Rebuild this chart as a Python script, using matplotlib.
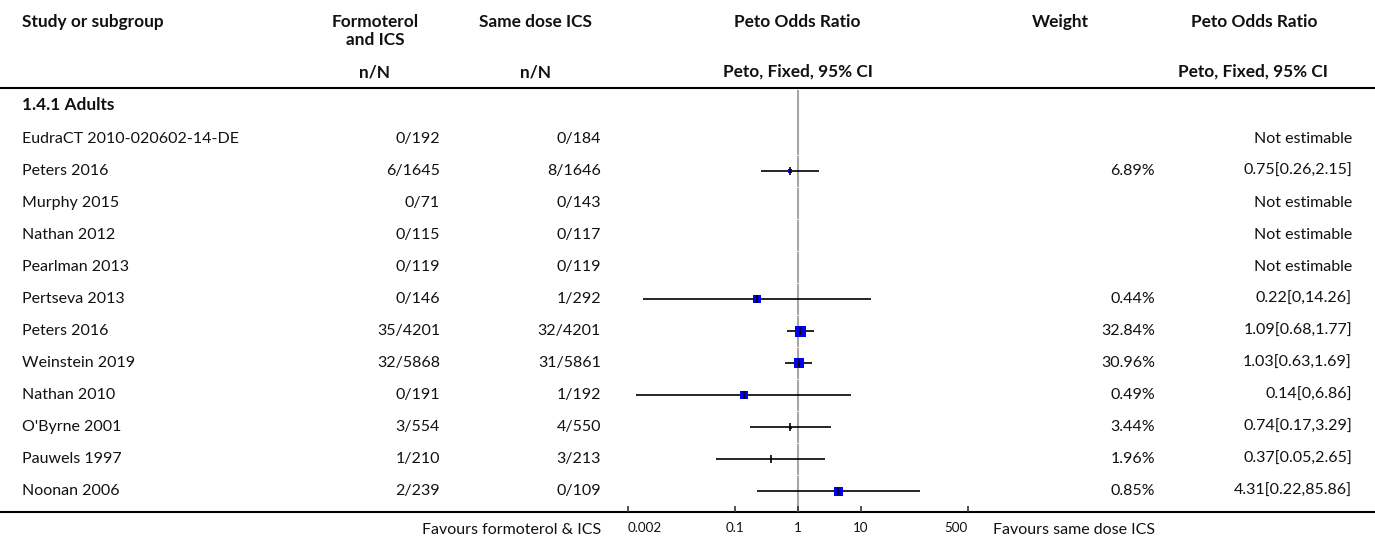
import matplotlib
matplotlib.use("Agg")
import matplotlib.pyplot as plt
from matplotlib.ticker import FixedLocator, NullLocator

# ---- data -------------------------------------------------------------
subgroup = "1.4.1 Adults"
studies = [
    "EudraCT 2010-020602-14-DE", "Peters 2016", "Murphy 2015", "Nathan 2012",
    "Pearlman 2013", "Pertseva 2013", "Peters 2016", "Weinstein 2019",
    "Nathan 2010", "O'Byrne 2001", "Pauwels 1997", "Noonan 2006",
]
form_events = [0, 6, 0, 0, 0, 0, 35, 32, 0, 3, 1, 2]
form_total = [192, 1645, 71, 115, 119, 146, 4201, 5868, 191, 554, 210, 239]
ics_events = [0, 8, 0, 0, 0, 1, 32, 31, 1, 4, 3, 0]
ics_total = [184, 1646, 143, 117, 119, 292, 4201, 5861, 192, 550, 213, 109]
weight_pct = [None, 6.89, None, None, None, 0.44, 32.84, 30.96, 0.49, 3.44, 1.96, 0.85]
peto_or = [None, 0.75, None, None, None, 0.22, 1.09, 1.03, 0.14, 0.74, 0.37, 4.31]
ci_low = [None, 0.26, None, None, None, 0.0035, 0.68, 0.63, 0.0027, 0.17, 0.05, 0.22]
ci_high = [None, 2.15, None, None, None, 14.26, 1.77, 1.69, 6.86, 3.29, 2.65, 85.86]
axis_ticks = [0.002, 0.1, 1, 10, 500]
axis_tick_labels = ["0.002", "0.1", "1", "10", "500"]
favours_left = "Favours formoterol & ICS"
favours_right = "Favours same dose ICS"

# ---- styling ----------------------------------------------------------
box_side_px = [0, 5, 0, 0, 0, 8, 11, 10, 8, 3, 0, 9]
W, H = 1375, 539
FONT = ["Lato", "DejaVu Sans"]
FS = 11.5
FS_HDR = 12.4
BOX_COLOR = "#0000ee"
TEXT = "#111111"

plt.rcParams["font.family"] = FONT


def fmt(v):
    s = f"{v:.2f}"
    if "." in s:
        s = s.rstrip("0").rstrip(".")
    return s


fig = plt.figure(figsize=(W / 100, H / 100), dpi=100)
fig.patch.set_facecolor("white")

# text layer in pixel coordinates
tx = fig.add_axes([0, 0, 1, 1])
tx.set_xlim(0, W)
tx.set_ylim(H, 0)
tx.axis("off")

# forest plot layer with a logarithmic odds-ratio axis
FX0, FX1, FY0, FY1 = 622, 975, 88, 512
px_per_decade = 63.0
x_at_one = 798.0
fx = fig.add_axes([FX0 / W, (H - FY1) / H, (FX1 - FX0) / W, (FY1 - FY0) / H])
fx.set_xscale("log")
fx.set_xlim(10 ** ((FX0 - x_at_one) / px_per_decade), 10 ** ((FX1 - x_at_one) / px_per_decade))
fx.set_ylim(FY1, FY0)
fx.patch.set_alpha(0)
for side in ("left", "right", "top", "bottom"):
    fx.spines[side].set_visible(False)
fx.yaxis.set_major_locator(NullLocator())
fx.xaxis.set_major_locator(FixedLocator(axis_ticks))
fx.xaxis.set_minor_locator(NullLocator())
fx.set_xticklabels(axis_tick_labels)
fx.tick_params(axis="x", direction="in", length=4, width=1.2, color="#333333",
               labelsize=9.6, pad=7, labelcolor=TEXT)
tick_labels = fx.get_xticklabels()
tick_labels[0].set_horizontalalignment("left")
tick_labels[-1].set_horizontalalignment("right")

# header
hdr = dict(fontsize=FS_HDR, fontweight="bold", color=TEXT, va="center")
tx.text(22, 22, "Study or subgroup", ha="left", **hdr)
tx.text(375, 22, "Formoterol", ha="center", **hdr)
tx.text(375, 40, "and ICS", ha="center", **hdr)
tx.text(536, 22, "Same dose ICS", ha="center", **hdr)
tx.text(797, 22, "Peto Odds Ratio", ha="center", **hdr)
tx.text(1060, 22, "Weight", ha="center", **hdr)
tx.text(1254, 22, "Peto Odds Ratio", ha="center", **hdr)
tx.text(375, 72, "n/N", ha="center", **hdr)
tx.text(536, 72, "n/N", ha="center", **hdr)
tx.text(798, 72, "Peto, Fixed, 95% CI", ha="center", **hdr)
tx.text(1253, 72, "Peto, Fixed, 95% CI", ha="center", **hdr)
tx.plot([0, W], [88, 88], color="black", lw=1.5, solid_capstyle="butt")
tx.text(22, 105, subgroup, ha="left", **hdr)

# null line at OR = 1, with faint breaks between rows
row_y0, row_step = 139, 32
fx.vlines(1, 90, FY1, color="#a6a6a6", lw=1.5, zorder=1)
for i in range(1, len(studies)):
    yb = row_y0 + row_step * i - row_step / 2
    fx.hlines(yb, 0.93, 1.075, color="white", lw=0.6, zorder=1.5)

body = dict(fontsize=FS, color=TEXT, va="center")
for i, name in enumerate(studies):
    y = row_y0 + row_step * i
    tx.text(22, y, name, ha="left", **body)
    tx.text(440, y, f"{form_events[i]}/{form_total[i]}", ha="right", **body)
    tx.text(601, y, f"{ics_events[i]}/{ics_total[i]}", ha="right", **body)
    if peto_or[i] is None:
        tx.text(1352, y, "Not estimable", ha="right", **body)
        continue
    tx.text(1155, y, f"{weight_pct[i]:.2f}%", ha="right", **body)
    tx.text(1352, y, f"{fmt(peto_or[i])}[{fmt(ci_low[i])},{fmt(ci_high[i])}]", ha="right", **body)
    fx.hlines(y, ci_low[i], ci_high[i], color="black", lw=1.2, zorder=2)
    side = box_side_px[i]
    if side > 0:
        fx.plot([peto_or[i]], [y], marker="s", ms=side * 0.72, mfc=BOX_COLOR,
                mec=BOX_COLOR, mew=0, ls="none", zorder=3)
    fx.vlines(peto_or[i], y - 4.3, y + 4.3, color="black", lw=1.2, zorder=4)

# bottom rule and favours captions
tx.plot([0, W], [512, 512], color="black", lw=1.5, solid_capstyle="butt")
tx.text(601, 530, favours_left, ha="right", fontsize=FS, color=TEXT, va="center")
tx.text(993, 530, favours_right, ha="left", fontsize=FS, color=TEXT, va="center")

fig.savefig("out.png", dpi=100, facecolor="white")
